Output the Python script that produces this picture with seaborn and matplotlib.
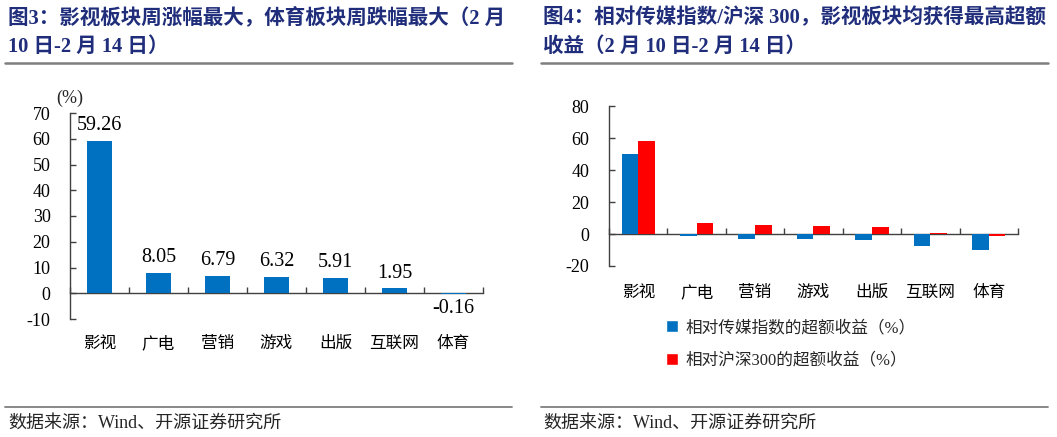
import numpy as np
import pandas as pd
import matplotlib
matplotlib.use('Agg')
import matplotlib.pyplot as plt
from matplotlib.lines import Line2D
from matplotlib.patches import Patch
import seaborn as sns

# ---------------- data ----------------
categories = ['影视', '广电', '营销', '游戏', '出版', '互联网', '体育']
weekly_change = [59.26, 8.05, 6.79, 6.32, 5.91, 1.95, -0.16]
excess_vs_media = [49.8, -1.5, -2.9, -3.3, -3.7, -7.7, -9.8]
excess_vs_hs300 = [58.1, 6.7, 5.4, 5.0, 4.6, 0.8, -1.5]
series_names = ['相对传媒指数的超额收益（%）', '相对沪深300的超额收益（%）']
left_yticks = list(range(-10, 71, 10))
right_yticks = list(range(-20, 81, 20))

title_left = ['图3：影视板块周涨幅最大，体育板块周跌幅最大（2 月', '10 日-2 月 14 日）']
title_right = ['图4：相对传媒指数/沪深 300，影视板块均获得最高超额', '收益（2 月 10 日-2 月 14 日）']
source_text = '数据来源：Wind、开源证券研究所'

BLUE = '#0070C0'
RED = '#FF0000'
NAVY = '#1F2D7B'
AXIS = '#404040'

sns.set_theme(style='white')
plt.rcParams['font.family'] = ['Liberation Serif', 'Noto Sans CJK SC', 'DejaVu Sans']
plt.rcParams['axes.unicode_minus'] = False

W, H = 1057, 437
fig = plt.figure(figsize=(W / 100, H / 100), dpi=100)


def axrect(x0, y0, x1, y1):
    return [x0 / W, 1 - y1 / H, (x1 - x0) / W, (y1 - y0) / H]


def fy(y):
    return 1 - y / H


def style_axis(ax, yticks, ylim, label_pad):
    ax.set_xlim(-0.5, len(categories) - 0.5)
    ax.set_ylim(*ylim)
    ax.set_yticks(yticks)
    ax.set_yticklabels([str(t) for t in yticks])
    for s in ['top', 'right']:
        ax.spines[s].set_visible(False)
    ax.spines['left'].set_color(AXIS)
    ax.spines['bottom'].set_color(AXIS)
    ax.spines['bottom'].set_position(('data', 0))
    ax.spines['left'].set_linewidth(1.0)
    ax.spines['bottom'].set_linewidth(1.0)
    ax.tick_params(axis='y', direction='in', length=4, width=1, color=AXIS,
                   pad=14, labelsize=13, left=True)
    ax.set_xticks(range(len(categories)))
    ax.set_xticklabels(categories)
    ax.set_xticks(np.arange(-0.5, len(categories), 1), minor=True)
    ax.tick_params(axis='x', which='major', length=0, pad=label_pad, labelsize=12,
                   bottom=True)
    ax.tick_params(axis='x', which='minor', direction='in', length=4, width=1,
                   color=AXIS, bottom=True)
    ax.set_xlabel('')
    ax.set_ylabel('')
    ax.grid(False)
    ax.set_facecolor('none')
    for p in ax.patches:
        p.set_zorder(3)
        p.set_linewidth(0)
    for lab in ax.get_xticklabels():
        lab.set_family(['Noto Sans CJK SC'])
        lab.set_color('black')
    for lab in ax.get_yticklabels():
        lab.set_color('black')


# ---------------- left chart ----------------
ax1 = fig.add_axes(axrect(70, 113, 483, 319))
df1 = pd.DataFrame({'cat': categories, 'val': weekly_change})
sns.barplot(data=df1, x='cat', y='val', color=BLUE, saturation=1, width=0.41,
            ax=ax1, order=categories)
style_axis(ax1, left_yticks, (-10, 70), 30)
ax1.bar_label(ax1.containers[0], labels=[f'{v:.2f}' for v in weekly_change],
              padding=4, fontsize=14.5, color='black')
fig.text(70 / W, fy(98), '(%)', ha='center', va='center', fontsize=13)

# ---------------- right chart ----------------
ax2 = fig.add_axes(axrect(609, 106, 1018, 266))
df2 = pd.DataFrame({
    'cat': categories * 2,
    'val': excess_vs_media + excess_vs_hs300,
    'series': [series_names[0]] * len(categories) + [series_names[1]] * len(categories),
})
sns.barplot(data=df2, x='cat', y='val', hue='series', palette=[BLUE, RED],
            saturation=1, width=0.57, ax=ax2, order=categories,
            hue_order=series_names, legend=False)
style_axis(ax2, right_yticks, (-20, 80), 36)

fig.legend(handles=[Patch(facecolor=BLUE), Patch(facecolor=RED)], labels=series_names,
           loc='upper left', bbox_to_anchor=(666 / W, fy(320)), frameon=False,
           handlelength=0.7, handleheight=0.7, handletextpad=0.5, labelspacing=1.0,
           borderpad=0, borderaxespad=0,
           prop={'family': ['Liberation Serif', 'Noto Sans CJK SC'], 'size': 12})

# ---------------- titles ----------------
for i, line in enumerate(title_left):
    fig.text(8 / W, fy(18 + 29 * i), line, ha='left', va='center', fontsize=14.8,
             fontweight='bold', color=NAVY,
             family=['Liberation Serif', 'Noto Sans CJK SC'])
for i, line in enumerate(title_right):
    fig.text(543 / W, fy(18 + 29 * i), line, ha='left', va='center', fontsize=14.8,
             fontweight='bold', color=NAVY,
             family=['Liberation Serif', 'Noto Sans CJK SC'])

for x0, x1 in [(5, 512), (541, 1048)]:
    fig.add_artist(Line2D([x0 / W, x1 / W], [fy(63), fy(63)], color='#7F7F7F',
                          lw=1.8, transform=fig.transFigure))
    fig.add_artist(Line2D([x0 / W, x1 / W], [fy(407), fy(407)], color='#7F7F7F',
                          lw=1.3, transform=fig.transFigure))

fig.text(8 / W, fy(423), source_text, ha='left', va='center', fontsize=13,
         family=['Liberation Serif', 'Noto Sans CJK SC'])
fig.text(543 / W, fy(423), source_text, ha='left', va='center', fontsize=13,
         family=['Liberation Serif', 'Noto Sans CJK SC'])

fig.savefig('out.png', dpi=100)
